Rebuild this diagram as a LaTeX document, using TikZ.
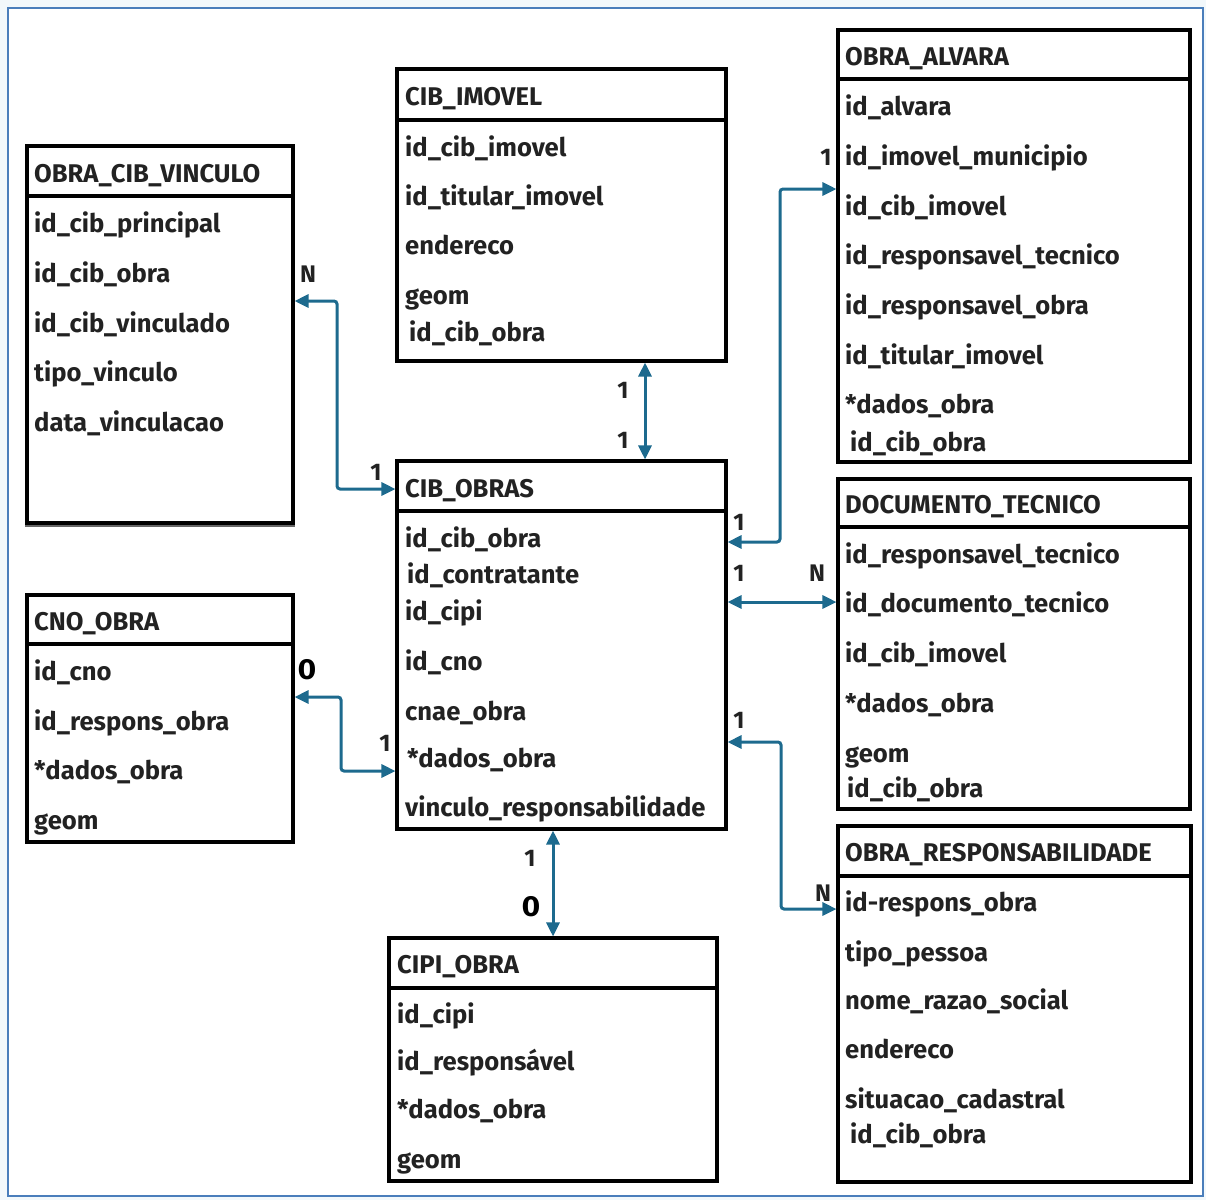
\documentclass[tikz,border=0pt]{standalone}
\usepackage{fontspec}
\setmainfont{Fira Sans}
\newfontfamily\zerofont{DejaVu Sans}
\usetikzlibrary{fit,arrows.meta}
\definecolor{txt}{HTML}{222222}
\definecolor{conncol}{HTML}{1D6A8E}
\definecolor{framecol}{HTML}{4A7EBB}
\definecolor{outbg}{HTML}{F2F8FB}
\begin{document}
\begin{tikzpicture}[x=1pt,y=-1pt,
  tbl/.style={draw=black, line width=3.1pt, inner sep=0pt},
  sepline/.style={draw=black, line width=3.1pt},
  row/.style={anchor=west, inner sep=0pt, text height=0.75em, text depth=0.25em,
    font=\fontsize{25.6}{28}\selectfont\bfseries, text=txt, yshift=-6pt},
  ttl/.style={row},
  conn/.style={draw=conncol, line width=3pt, rounded corners=3pt,
    {Triangle[width=13pt,length=14pt]}-{Triangle[width=13pt,length=14pt]}},
  card/.style={inner sep=0pt, font=\fontsize{24}{26}\selectfont\bfseries, text=txt},
  zero/.style={inner sep=0pt, font=\zerofont\fontsize{27}{30}\selectfont\bfseries, text=black}
]
\useasboundingbox (0,0) rectangle (1206,1200);
\fill[outbg] (0,0) rectangle (1206,1200);
\draw[framecol, line width=2.5pt, fill=white] (8,8) rectangle (1203,1196);

% OBRA_CIB_VINCULO
\node[tbl, fit={(27,146) (293,523)}] (vinc) {};
\draw[sepline] (vinc.west |- 0,196) -- (vinc.east |- 0,196);
\draw[black!60, line width=2pt] ([yshift=-1pt]vinc.south west) -- ([yshift=-1pt]vinc.south east);
\node[ttl] (vinc-t) at (34,174) {OBRA\_CIB\_VINCULO};
\node[row] (vinc-1) at (34,224) {id\_cib\_principal};
\node[row] (vinc-2) at (34,274) {id\_cib\_obra};
\node[row] (vinc-3) at (34,324) {id\_cib\_vinculado};
\node[row] (vinc-4) at (34,373) {tipo\_vinculo};
\node[row] (vinc-5) at (34,423) {data\_vinculacao};

% CIB_IMOVEL
\node[tbl, fit={(397,69) (726,361)}] (imov) {};
\draw[sepline] (imov.west |- 0,120) -- (imov.east |- 0,120);
\node[ttl] (imov-t) at (405,97) {CIB\_IMOVEL};
\node[row] (imov-1) at (405,148) {id\_cib\_imovel};
\node[row] (imov-2) at (405,197) {id\_titular\_imovel};
\node[row] (imov-3) at (405,246) {endereco};
\node[row] (imov-4) at (405,296) {geom};
\node[row] (imov-5) at (409,333) {id\_cib\_obra};

% OBRA_ALVARA
\node[tbl, fit={(838,30) (1190,462)}] (alv) {};
\draw[sepline] (alv.west |- 0,79) -- (alv.east |- 0,79);
\node[ttl] (alv-t) at (845,57) {OBRA\_ALVARA};
\node[row] (alv-1) at (845,107) {id\_alvara};
\node[row] (alv-2) at (845,157) {id\_imovel\_municipio};
\node[row] (alv-3) at (845,207) {id\_cib\_imovel};
\node[row] (alv-4) at (845,256) {id\_responsavel\_tecnico};
\node[row] (alv-5) at (845,306) {id\_responsavel\_obra};
\node[row] (alv-6) at (845,356) {id\_titular\_imovel};
\node[row] (alv-7) at (845,405) {*dados\_obra};
\node[row] (alv-8) at (850,443) {id\_cib\_obra};

% CIB_OBRAS
\node[tbl, fit={(397,461) (726,829)}] (obras) {};
\draw[sepline] (obras.west |- 0,511) -- (obras.east |- 0,511);
\node[ttl] (obras-t) at (405,489) {CIB\_OBRAS};
\node[row] (obras-1) at (405,539) {id\_cib\_obra};
\node[row] (obras-2) at (407,575) {id\_contratante};
\node[row] (obras-3) at (405,612) {id\_cipi};
\node[row] (obras-4) at (405,662) {id\_cno};
\node[row] (obras-5) at (405,712) {cnae\_obra};
\node[row] (obras-6) at (407,759) {*dados\_obra};
\node[row] (obras-7) at (405,808) {vinculo\_responsabilidade};

% DOCUMENTO_TECNICO
\node[tbl, fit={(838,479) (1190,809)}] (doc) {};
\draw[sepline] (doc.west |- 0,527) -- (doc.east |- 0,527);
\node[ttl] (doc-t) at (845,505) {DOCUMENTO\_TECNICO};
\node[row] (doc-1) at (845,555) {id\_responsavel\_tecnico};
\node[row] (doc-2) at (845,604) {id\_documento\_tecnico};
\node[row] (doc-3) at (845,654) {id\_cib\_imovel};
\node[row] (doc-4) at (845,704) {*dados\_obra};
\node[row] (doc-5) at (845,754) {geom};
\node[row] (doc-6) at (847,789) {id\_cib\_obra};

% CNO_OBRA
\node[tbl, fit={(27,595) (293,842)}] (cno) {};
\draw[sepline] (cno.west |- 0,644) -- (cno.east |- 0,644);
\node[ttl] (cno-t) at (34,622) {CNO\_OBRA};
\node[row] (cno-1) at (34,672) {id\_cno};
\node[row] (cno-2) at (34,722) {id\_respons\_obra};
\node[row] (cno-3) at (34,771) {*dados\_obra};
\node[row] (cno-4) at (34,821) {geom};

% CIPI_OBRA
\node[tbl, fit={(389,938) (717,1181)}] (cipi) {};
\draw[sepline] (cipi.west |- 0,988) -- (cipi.east |- 0,988);
\node[ttl] (cipi-t) at (397,965) {CIPI\_OBRA};
\node[row] (cipi-1) at (397,1015) {id\_cipi};
\node[row] (cipi-2) at (397,1062) {id\_responsável};
\node[row] (cipi-3) at (397,1110) {*dados\_obra};
\node[row] (cipi-4) at (397,1160) {geom};

% OBRA_RESPONSABILIDADE
\node[tbl, fit={(838,826) (1191,1182)}] (resp) {};
\draw[sepline] (resp.west |- 0,876) -- (resp.east |- 0,876);
\node[ttl] (resp-t) at (845,853) {OBRA\_RESPONSABILIDADE};
\node[row] (resp-1) at (845,903) {id-respons\_obra};
\node[row] (resp-2) at (845,953) {tipo\_pessoa};
\node[row] (resp-3) at (845,1001) {nome\_razao\_social};
\node[row] (resp-4) at (845,1050) {endereco};
\node[row] (resp-5) at (845,1100) {situacao\_cadastral};
\node[row] (resp-6) at (850,1135) {id\_cib\_obra};

% connectors
\draw[conn] (vinc.east |- 0,301) -- (337,301) -- (337,489) -- (obras.west |- 0,489);
\draw[conn] (imov.south -| 645,0) -- (obras.north -| 645,0);
\draw[conn] (obras.east |- 0,542) -- (780,542) -- (780,189) -- (alv.west |- 0,189);
\draw[conn] (obras.east |- 0,602) -- (doc.west |- 0,602);
\draw[conn] (obras.east |- 0,742) -- (781,742) -- (781,909) -- (resp.west |- 0,909);
\draw[conn] (cno.east |- 0,697) -- (341,697) -- (341,771) -- (obras.west |- 0,771);
\draw[conn] (obras.south -| 553,0) -- (cipi.north -| 553,0);

% cardinalities
\node[card] (la1) at (308,274) {N};
\node[card] (la2) at (376,472) {1};
\node[card] (lb1) at (623,390) {1};
\node[card] (lb2) at (623,440) {1};
\node[card] (lc1) at (739,522) {1};
\node[card] (lc2) at (826,157) {1};
\node[card] (ld1) at (739,573) {1};
\node[card] (ld2) at (817,573) {N};
\node[card] (le1) at (739,720) {1};
\node[card] (le2) at (823,893) {N};
\node[zero] (lf1) at (307,670) {0};
\node[card] (lf2) at (385,743) {1};
\node[card] (lg1) at (530,858) {1};
\node[zero] (lg2) at (531,907) {0};
\end{tikzpicture}
\end{document}
